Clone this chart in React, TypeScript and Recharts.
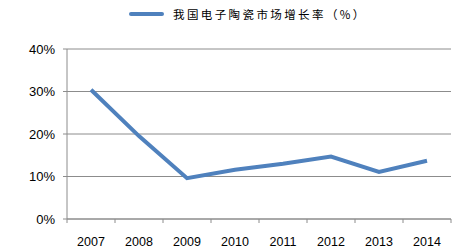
import React from "react";
import { LineChart, Line, XAxis, YAxis, CartesianGrid, Legend } from "recharts";

const years = ["2007", "2008", "2009", "2010", "2011", "2012", "2013", "2014"];
const growth = [30.4, 19.5, 9.6, 11.6, 13.0, 14.7, 11.1, 13.7];
const yTicks = [0, 10, 20, 30, 40];
const boundaryTicks = [0, 1, 2, 3, 4, 5, 6, 7, 8];
const seriesName = "我国电子陶瓷市场增长率（%）";

const data = years.map((y, i) => ({ year: y, value: growth[i], pos: i + 0.5 }));

const LegendContent = () => (
  <div style={{ position: "relative", height: 20 }}>
    <svg width={464} height={20} style={{ position: "absolute", left: 0, top: 0 }}>
      <line x1={131} y1={14} x2={162} y2={14} stroke="#4F81BD" strokeWidth={4} strokeLinecap="round" />
      <text
        x={173}
        y={18.5}
        fontSize={11.5}
        fill="#000"
        fontFamily="'Noto Sans CJK SC', sans-serif"
        letterSpacing={2.4}
      >
        {seriesName}
      </text>
    </svg>
  </div>
);

const EmptyTick = () => <g />;

export default function App() {
  return (
    <div style={{ position: "absolute", left: 0, top: 0, width: 464, height: 250, background: "#fff" }}>
      <LineChart
        width={464}
        height={250}
        data={data}
        margin={{ top: 29, right: 13, bottom: 6, left: 0 }}
      >
        <CartesianGrid vertical={false} xAxisId={1} stroke="#8c8c8c" strokeWidth={1} />
        <XAxis
          xAxisId={0}
          dataKey="pos"
          type="number"
          domain={[0, 8]}
          ticks={boundaryTicks}
          interval={0}
          height={1}
          axisLine={{ stroke: "#8c8c8c" }}
          tickLine={{ stroke: "#8c8c8c" }}
          tickSize={4}
          tick={EmptyTick}
          orientation="bottom"
        />
        <XAxis
          xAxisId={1}
          dataKey="year"
          scale="band"
          height={24}
          axisLine={false}
          tickLine={false}
          interval={0}
          tick={{ fontSize: 12.5, fill: "#000", fontFamily: "'Liberation Sans', Arial, sans-serif", dy: 9 }}
        />
        <YAxis
          domain={[0, 40]}
          ticks={yTicks}
          width={67}
          axisLine={{ stroke: "#8c8c8c" }}
          tickLine={{ stroke: "#8c8c8c" }}
          tickSize={4}
          tickFormatter={(v: number) => `${v}%`}
          tick={{ fontSize: 13, fill: "#000", fontFamily: "'Liberation Sans', Arial, sans-serif", dx: -6 }}
        />
        <Legend verticalAlign="top" content={<LegendContent />} wrapperStyle={{ top: 0, left: 0, width: 464 }} />
        <Line
          xAxisId={1}
          type="linear"
          dataKey="value"
          name={seriesName}
          stroke="#4F81BD"
          strokeWidth={4}
          dot={false}
          isAnimationActive={false}
        />
      </LineChart>
    </div>
  );
}
